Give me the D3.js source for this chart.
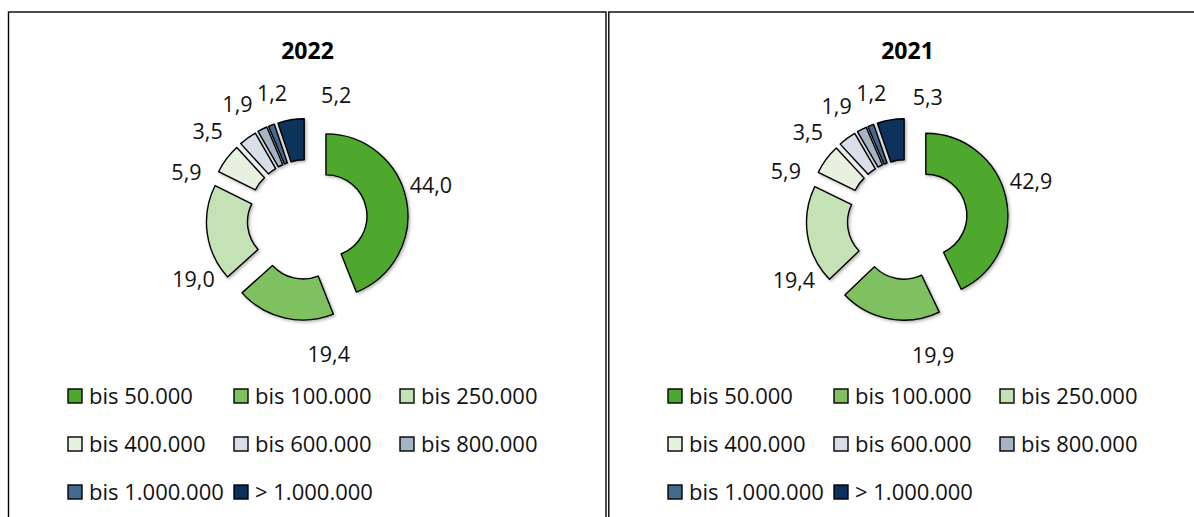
<!DOCTYPE html>
<html><head><meta charset="utf-8">
<script src="https://cdn.jsdelivr.net/npm/d3@7"></script>
<style>body{margin:0;background:#fff;overflow:hidden} svg{display:block}</style>
</head><body>
<script>
// ---- data ----
const categories = ["bis 50.000","bis 100.000","bis 250.000","bis 400.000","bis 600.000","bis 800.000","bis 1.000.000","> 1.000.000"];
const years = ["2022","2021"];
const values2022 = [44.0,19.4,19.0,5.9,3.5,1.9,1.2,5.2];
const values2021 = [42.9,19.9,19.4,5.9,3.5,1.9,1.2,5.3];

// ---- style / layout ----
const colors = ["#4fa82e","#7fc160","#c5e2b7","#e6f2df","#d8dfe8","#a6b5c6","#44698f","#0a305c"];
const labelNudge2022 = [[-4,-10],[51,8],[15,42],[-17,31],[-23,17],[-12,1],[11,-5],[50,4]];
const labelNudge2021 = [[-3,-9],[49,8],[15,40],[-17,29],[-22,17],[-12,3],[11,-5],[42,6]];
const W = 1194, H = 517;
const FONT = "'Open Sans', 'Noto Sans', sans-serif";

const locale = d3.formatLocale({decimal:",", thousands:".", grouping:[3], currency:["",""]});
const fmt = locale.format(".1f");

const svg = d3.select("body").append("svg").attr("width", W).attr("height", H);
const defs = svg.append("defs");
const f = defs.append("filter").attr("id","sh").attr("x","-20%").attr("y","-20%").attr("width","140%").attr("height","140%");
f.append("feDropShadow").attr("dx",1.5).attr("dy",1.5).attr("stdDeviation",1.6)
  .attr("flood-color","#000").attr("flood-opacity",0.3);

const panels = [
  {year: years[0], values: values2022, nudge: labelNudge2022, x0: 8.5, x1: 606},
  {year: years[1], values: values2021, nudge: labelNudge2021, x0: 608.8, x1: 1196}
];

const R = 82, r = 41, explode = 19, labelR = 130;
const pie = d3.pie().sort(null).value(d => d);
const arc = d3.arc().innerRadius(r).outerRadius(R);
const midArc = d3.arc().innerRadius(1).outerRadius(1);
const labelArc = d3.arc().innerRadius(labelR).outerRadius(labelR);

panels.forEach((p, pi) => {
  const ox = pi * 600;
  svg.append("rect").attr("x", p.x0).attr("y", 12).attr("width", p.x1 - p.x0).attr("height", H + 20)
    .attr("fill", "none").attr("stroke", "#000").attr("stroke-width", 1.4);

  const g = svg.append("g");
  g.append("text").attr("x", 307.5 + ox).attr("y", 59).attr("text-anchor","middle")
    .attr("font-family", FONT).attr("font-weight", 700).attr("font-size", 23)
    .attr("fill","#000").text(p.year);

  const cx = 307.3 + ox, cy = 219.5;
  const donut = g.append("g").attr("transform", `translate(${cx},${cy})`);
  const arcs = pie(p.values);

  donut.selectAll("path").data(arcs).join("path")
    .attr("transform", d => {
      const c = midArc.centroid(d);
      return `translate(${c[0]*explode},${c[1]*explode})`;
    })
    .attr("d", arc)
    .attr("fill", (d,i) => colors[i])
    .attr("stroke", "#000").attr("stroke-width", 1.4).attr("stroke-linejoin","round")
    .attr("filter","url(#sh)");

  donut.selectAll("text").data(arcs).join("text")
    .attr("x", (d,i) => labelArc.centroid(d)[0] + p.nudge[i][0])
    .attr("y", (d,i) => labelArc.centroid(d)[1] + p.nudge[i][1])
    .attr("dy","0.36em").attr("text-anchor","middle")
    .attr("font-family", FONT).attr("font-size", 21.5).attr("fill","#111")
    .text(d => fmt(d.data));

  // legend
  const leg = g.append("g");
  categories.forEach((c, i) => {
    const col = i % 3, row = Math.floor(i / 3);
    const x = 68 + ox + col * 166, y = 396 + row * 48;
    leg.append("rect").attr("x", x).attr("y", y - 7).attr("width", 14).attr("height", 14)
      .attr("fill", colors[i]).attr("stroke","#000").attr("stroke-width",1.4);
    leg.append("text").attr("x", x + 21).attr("y", y).attr("dy","0.36em")
      .attr("font-family", FONT).attr("font-size", 22).attr("fill","#111")
      .text(c);
  });
});
</script>
</body></html>
